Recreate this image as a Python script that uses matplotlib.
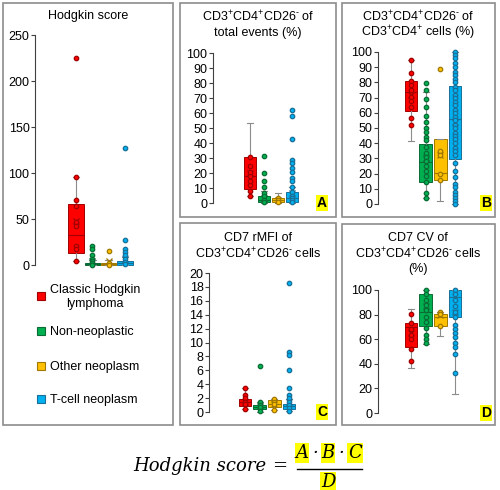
import matplotlib
matplotlib.use("Agg")
import matplotlib.pyplot as plt
from matplotlib.patches import Rectangle
from matplotlib.lines import Line2D

plt.rcParams["font.family"] = ["Liberation Sans", "DejaVu Sans"]
plt.rcParams["mathtext.fontset"] = "custom"
plt.rcParams["mathtext.rm"] = "Liberation Sans"
plt.rcParams["mathtext.default"] = "rm"

W, H = 500, 490

GROUPS = ["Classic Hodgkin\nlymphoma", "Non-neoplastic", "Other neoplasm", "T-cell neoplasm"]
BOX_COLORS = ["#FF0000", "#00B050", "#FFC000", "#00B0F0"]
EDGE_COLORS = ["#A00000", "#0B6B35", "#A07800", "#1A6F96"]

# box stats per group: (q1, median, q3, whisker low, whisker high, mean)
SCORE_BOX = [(13, 33, 66, 4, 96, 48), (0.3, 1, 2.5, 0, 5, 4),
             (0.3, 1.2, 2.5, 0, 5, 4.5), (0.5, 2, 4.5, 0, 9, 6)]
SCORE_PTS = [[225, 96, 71, 64, 47, 42, 21, 17, 4],
             [20.6, 17, 11, 6, 4.7, 2, 0.5],
             [15.6, 2, 0.5],
             [127, 27, 17, 14.5, 11, 7, 3, 1]]

A_BOX = [(9.6, 18.2, 30.4, 4.4, 53.3, 20), (0.7, 2.2, 5, 0.2, 8, 3.5),
         (0.8, 1.8, 3.5, 0.3, 7, 2.3), (0.8, 3.3, 7.3, 0, 10.7, 7)]
A_PTS = [[4.4, 7.8, 12.2, 14.4, 17.8, 21, 24.4, 30.4],
         [31.5, 20, 14.4, 11, 6.7, 4.4, 2.2, 0.7],
         [3.5, 2, 0.8],
         [62, 58, 43, 29, 26.7, 23.3, 20.4, 16.7, 14.4, 10.7, 7.1, 4.9, 3.3, 1.8, 0.4]]

B_BOX = [(61.3, 73.7, 81.2, 41.4, 94.5, 71.6), (14.2, 27.8, 39.2, 3.7, 74, 30.4),
         (15.8, 20.6, 42.5, 2, 42.5, 32.2), (29.3, 56.2, 77.5, 0, 100, 54)]
B_PTS = [[94.5, 86.2, 80.7, 78.1, 74.8, 70.5, 67.6, 63.9, 56.9, 52.3],
         [79.6, 74.8, 69.4, 63.9, 57.8, 54, 50, 47.5, 44.2, 42, 37.6, 33.7, 31,
          28.2, 25, 21.9, 18.4, 14.7, 7.4, 3.7],
         [88.6, 35, 32, 20, 15.8],
         [100, 98, 96, 93, 90, 87, 85, 82, 80, 77, 75, 72, 70, 67, 65, 62, 60,
          57, 55, 52, 50, 47, 45, 43, 40, 37, 35, 32, 27, 22, 18, 13, 11, 8, 6,
          4, 2, 0]]

C_BOX = [(0.9, 1.5, 1.9, 0.5, 3.4, 1.5), (0.43, 0.7, 1.05, 0, 1.4, 0.8),
         (0.7, 1.15, 1.7, 0.25, 1.8, 1.2), (0.43, 0.8, 1.2, 0.1, 1.8, 1.4)]
C_PTS = [[3.4, 2.5, 2, 1.5, 1.2, 0.5],
         [6.6, 1.4, 1.05, 0.7, 0.1],
         [1.8, 1.45, 1.15, 0.25],
         [18.5, 8.7, 8.2, 6.1, 3.5, 2.5, 2.0, 1.5, 1.0, 0.6, 0.1]]

D_BOX = [(53.3, 69.6, 73.4, 36.7, 84.2, 64.7), (70.7, 82.3, 96.7, 56.5, 100, 87),
         (70.7, 78.3, 80.4, 62.5, 82.3, 79.6), (77.7, 94, 100, 15.8, 100, 82)]
D_PTS = [[80.2, 72.8, 67.9, 63.3, 59.8, 52.4, 42.4],
         [100, 96.7, 91.8, 87.8, 83.7, 78.3, 74.2, 68.8, 63.3, 59.8, 57],
         [82.3, 80.4, 70.7],
         [100, 96.7, 91.8, 87, 82.3, 77.7, 71.5, 68.2, 64.7, 61.4, 57.3, 53.8,
          47.8, 32.6]]

fig = plt.figure(figsize=(W / 100, H / 100), dpi=100)


def fx(x):
    return x / W


def fy(y):
    return 1 - y / H


def frame(x0, y0, x1, y1):
    fig.patches.append(Rectangle((fx(x0), fy(y1)), fx(x1 - x0), (y1 - y0) / H,
                                 transform=fig.transFigure, fill=False,
                                 edgecolor="#8C8C8C", linewidth=1.2))


def panel(spine_x, y_bottom, y_top, ymax, step, pos1, spacing, boxes, points,
          box_w=0.85):
    width = 120
    ax = fig.add_axes([fx(spine_x), fy(y_bottom), fx(width), (y_bottom - y_top) / H])
    ax.patch.set_alpha(0)
    left = 1 - (pos1 - spine_x) / spacing
    ax.set_xlim(left, left + width / spacing)
    ax.set_ylim(0, ymax)
    stats = []
    for q1, med, q3, lo, hi, mean in boxes:
        stats.append({"q1": q1, "med": med, "q3": q3, "whislo": lo,
                      "whishi": hi, "mean": mean, "fliers": []})
    for i, st in enumerate(stats):
        art = ax.bxp([st], positions=[i + 1], widths=box_w, patch_artist=True,
                     showmeans=True, capwidths=0.4,
                     boxprops=dict(facecolor=BOX_COLORS[i], edgecolor=EDGE_COLORS[i],
                                   linewidth=0.7),
                     medianprops=dict(color=EDGE_COLORS[i], linewidth=0.8),
                     whiskerprops=dict(color="#8C8C8C", linewidth=0.8),
                     capprops=dict(color="#8C8C8C", linewidth=0.8),
                     meanprops=dict(marker="x", markeredgecolor=EDGE_COLORS[i],
                                    markersize=5, markeredgewidth=0.9))
        for group in art.values():
            for a in group:
                a.set_clip_on(False)
        ax.plot([i + 1] * len(points[i]), points[i], "o", markersize=3.2,
                markerfacecolor=BOX_COLORS[i], markeredgecolor=EDGE_COLORS[i],
                markeredgewidth=0.9, clip_on=False, zorder=4)
    ax.set_yticks(range(0, ymax + 1, step))
    ax.tick_params(axis="y", labelsize=9, length=3, width=0.8, pad=1,
                   color="#404040")
    ax.set_xticks([])
    for side in ["top", "right", "bottom"]:
        ax.spines[side].set_visible(False)
    ax.spines["left"].set_linewidth(0.8)
    ax.spines["left"].set_color("#404040")
    return ax


# panel frames
frame(3, 3, 173, 425)
frame(180, 3, 336, 217)
frame(342, 3, 495, 217)
frame(180, 223, 336, 425)
frame(342, 224, 495, 425)

panel(35, 265, 35, 250, 50, 76, 16.3, SCORE_BOX, SCORE_PTS, box_w=0.95)
panel(213, 203, 53, 100, 10, 250, 14, A_BOX, A_PTS)
panel(378, 204, 52, 100, 10, 411, 14.7, B_BOX, B_PTS)
panel(209, 412, 273, 20, 2, 245, 14.7, C_BOX, C_PTS)
panel(378, 413, 290, 100, 20, 411, 14.7, D_BOX, D_PTS)

PLUS = "$^{+}$"
MINUS = "$^{\u2010}$"
CD26 = "CD3" + PLUS + "CD4" + PLUS + "CD26" + MINUS

title_kw = dict(ha="center", va="center", fontsize=9)
fig.text(fx(88), fy(16), "Hodgkin score", **title_kw)
fig.text(fx(258), fy(17), CD26 + " of", **title_kw)
fig.text(fx(258), fy(33), "total events (%)", **title_kw)
fig.text(fx(418), fy(17), CD26 + " of", **title_kw)
fig.text(fx(418), fy(33), "CD3" + PLUS + "CD4" + PLUS + " cells (%)", **title_kw)
fig.text(fx(258), fy(238), "CD7 rMFI of", **title_kw)
fig.text(fx(258), fy(254), CD26 + " cells", **title_kw)
fig.text(fx(418), fy(238), "CD7 CV of", **title_kw)
fig.text(fx(418), fy(254), CD26 + " cells", **title_kw)
fig.text(fx(418), fy(269), "(%)", **title_kw)

# yellow panel letters
for letter, (x, y) in zip("ABCD", [(322, 203), (486, 203), (322, 412), (486, 413)]):
    fig.text(fx(x), fy(y), letter, ha="center", va="center", fontsize=10,
             fontweight="bold",
             bbox=dict(facecolor="#FFFF00", edgecolor="none", pad=0.6))

# legend
for i, y in enumerate([296, 331, 366, 399]):
    fig.patches.append(Rectangle((fx(37), fy(y + 4)), fx(8), 8 / H,
                                 transform=fig.transFigure,
                                 facecolor=BOX_COLORS[i], edgecolor=EDGE_COLORS[i],
                                 linewidth=0.8))
    fig.text(fx(50), fy(y + 1), GROUPS[i], ha="left", va="center", fontsize=9,
             multialignment="center", linespacing=1.15)

# formula
ftxt = dict(family="DejaVu Serif", style="italic", fontsize=13, va="center")
fig.text(fx(266), fy(466), "Hodgkin score", ha="right", **ftxt)
fig.text(fx(280), fy(466), "=", ha="center", **ftxt)
hl = dict(facecolor="#FFFF00", edgecolor="none", pad=0.5)
for s, x in [("A", 302), ("B", 328), ("C", 355)]:
    fig.text(fx(x), fy(453), s, ha="center", bbox=hl, **ftxt)
for x in [315, 341]:
    fig.text(fx(x), fy(453), "\u00b7", ha="center", **ftxt)
fig.text(fx(328), fy(482), "D", ha="center", bbox=hl, **ftxt)
fig.lines.append(Line2D([fx(297), fx(362)], [fy(469), fy(469)],
                        transform=fig.transFigure, color="black", linewidth=1))

fig.savefig("out.png", dpi=100)
